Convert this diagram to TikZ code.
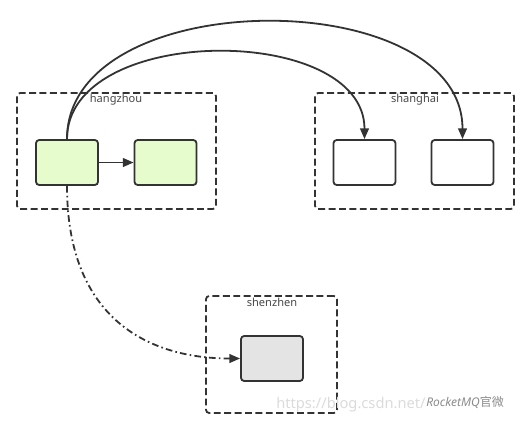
\documentclass[tikz,border=0pt]{standalone}
\usepackage{fontspec}
\setmainfont{Noto Sans}
\newfontfamily\cjk{Noto Sans CJK SC}
\usetikzlibrary{arrows.meta}
\definecolor{stroke}{HTML}{333333}
\definecolor{greenfill}{HTML}{E6FCCD}
\definecolor{grayfill}{HTML}{E4E4E4}
\tikzset{
  px/.style={x=0.75pt,y=-0.75pt},
  box/.style={draw=stroke, line width=1.35pt, rounded corners=2.4pt,
    minimum width=46.5pt, minimum height=33.75pt, inner sep=0pt},
  greenbox/.style={box, fill=greenfill},
  whitebox/.style={box, fill=white},
  graybox/.style={box, fill=grayfill},
  group/.style={draw=stroke, line width=1.35pt, dash pattern=on 5.2pt off 2.6pt,
    rounded corners=2.4pt, inner sep=0pt},
  grouplabel/.style={font=\fontsize{8.3}{10}\selectfont, text=stroke!90, inner sep=0pt},
  conn/.style={draw=stroke, line width=1.35pt, -{Triangle[length=8pt,width=6.5pt]}},
  dashdot/.style={conn, dash pattern=on 5pt off 2.4pt on 1.2pt off 2.4pt},
  wm/.style={text=black!14, inner sep=0pt}
}
\begin{document}
\begin{tikzpicture}[px]
\useasboundingbox (0,0) rectangle (530,426);
% groups
\node[group, minimum width=149.25pt, minimum height=87pt] (hz) at (116.5,151) {};
\node[group, minimum width=149.25pt, minimum height=87pt] (sh) at (414.5,151) {};
\node[group, minimum width=98.25pt, minimum height=87.75pt] (sz) at (271.5,354.5) {};
\node[grouplabel] (hzl) at (116,99.5) {hangzhou};
\node[grouplabel] (shl) at (415,99.5) {shanghai};
\node[grouplabel] (szl) at (272,302) {shenzhen};
% boxes
\node[greenbox] (a1) at (67,162.5) {};
\node[greenbox] (a2) at (165.5,162.5) {};
\node[whitebox] (s1) at (364.5,162.5) {};
\node[whitebox] (s2) at (462.5,162.5) {};
\node[graybox] (z1) at (272,358.5) {};
% connectors
\draw[conn] (a1.east) -- (a2.west);
\draw[conn] (a1.north) .. controls (67,23) and (364.5,23) .. (s1.north);
\draw[conn] (a1.north) .. controls (67,-17) and (462.5,-17) .. (s2.north);
\draw[dashdot] (a1.south) .. controls (67,320) and (150,358.5) .. (z1.west);
% watermarks
\node[wm, anchor=west, font=\fontsize{11}{12}\selectfont] (url) at (276,405) {https://blog.csdn.net/};
\node[wm, text=black!45, anchor=west, font=\fontsize{9}{10}\selectfont\itshape] (rq) at (426,402) {RocketMQ{\cjk\upshape 官微}};
\end{tikzpicture}
\end{document}
